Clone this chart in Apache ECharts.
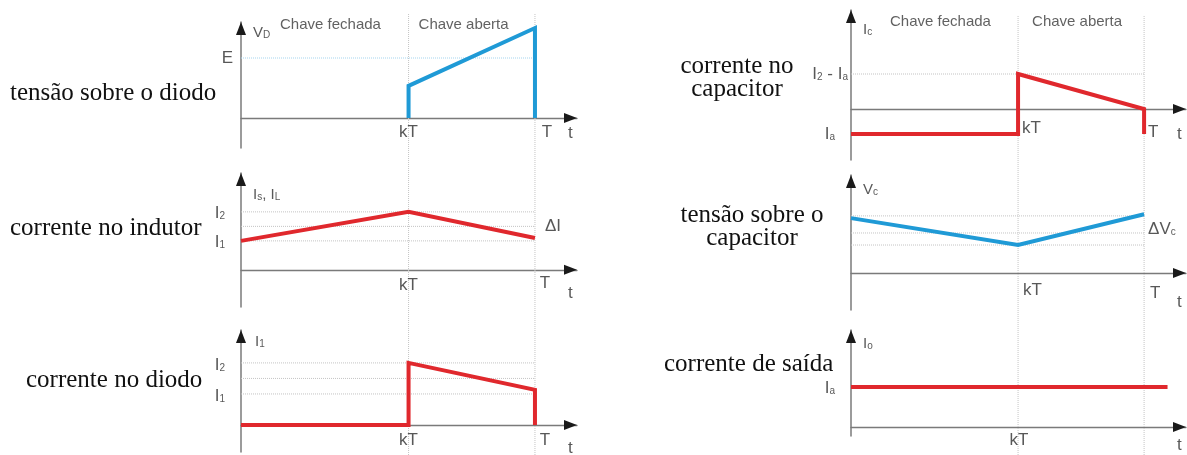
<!DOCTYPE html>
<html>
<head>
<meta charset="utf-8">
<script src="https://cdn.jsdelivr.net/npm/echarts@6/dist/echarts.min.js"></script>
<style>
  html, body { margin: 0; padding: 0; background: #fff; }
  #chart { width: 1187px; height: 455px; }
</style>
</head>
<body>
<div id="chart"></div>
<script>
// Switching waveforms over one period T; the switch opens at kT.
const k = 0.57;
const timeTicks = ['kT', 'T', 't'];
const timeTickPos = [k, 1, 1.12];

// tensão sobre o diodo
const vDiode = [[k, 0], [k, 1.07], [1, 3], [1, 0]];
const vDiodeLevels = [2];
const vDiodeLevelNames = ['E'];
// corrente no indutor
const iInductor = [[0, 1], [k, 2], [1, 1.1]];
const iInductorLevels = [1, 1.5, 2];
const iInductorLevelNames = ['I_1', '', 'I_2'];
// corrente no diodo
const iDiode = [[0, 0], [k, 0], [k, 2], [1, 1.13], [1, 0]];
const iDiodeLevels = [1, 1.5, 2];
const iDiodeLevelNames = ['I_1', '', 'I_2'];
// corrente no capacitor
const iCap = [[0, -1], [k, -1], [k, 1.4], [1, 0], [1, -1]];
const iCapLevels = [1.4];
const iCapLevelNames = ['I_2 - I_a'];
const iCapMarks = [-1];
const iCapMarkNames = ['I_a'];
// tensão sobre o capacitor
const vCap = [[0, 1.96], [k, 1], [1, 2.1]];
const vCapLevels = [1, 1.43, 2.04];
// corrente de saída
const iOut = [[0, 1], [1.08, 1]];
const iOutMarks = [1];
const iOutMarkNames = ['I_a'];

const sans = '"Liberation Sans", Arial, sans-serif';
const serif = '"Liberation Serif", "Times New Roman", serif';
const ink = '#2e2e2e';
const red = '#e0282d';
const blue = '#1f9ad6';
const guide = '#c4c4c4';

const rich = {
  m: { fontFamily: sans, fontSize: 17, color: ink },
  n: { fontFamily: sans, fontSize: 15, color: ink },
  s: { fontFamily: sans, fontSize: 10, color: ink, verticalAlign: 'bottom' },
  c: { fontFamily: sans, fontSize: 15, color: '#3a3a3a' }
};

// "I_2 - I_a" -> rich text with subscripts
function sub(text, big) {
  const st = big || 'm';
  return text.split(/(_[^\s,]+)/).filter(Boolean).map(function (p) {
    return p[0] === '_' ? '{s|' + p.slice(1) + '}' : '{' + st + '|' + p + '}';
  }).join('');
}

function note(x, y, text, align, dx, dy) {
  return { name: text, value: [x, y], label: { align: align, offset: [dx, dy] } };
}

const XMAX = 1.143;
const panels = [
  { // tensão sobre o diodo
    grid: { left: 241, top: 22, width: 336, height: 126 }, y: [-1, 3.2],
    color: blue, wave: vDiode, levels: vDiodeLevels, levelColor: '#a6d6f0',
    levelNames: vDiodeLevelNames, levelDx: -8, levelDy: 0,
    tickOffsets: [['center', 0, 14], ['center', 12, 14], ['center', 0, 15]],
    extra: [
      [0, 3.2, sub('V_D', 'n'), 'left', 12, 11],
      [0, 3.2, '{c|Chave fechada}', 'left', 39, 3],
      [k, 3.2, '{c|Chave aberta}', 'left', 10, 3]
    ]
  },
  { // corrente no indutor
    grid: { left: 241, top: 173, width: 336, height: 134 }, y: [-1.28, 3.34],
    color: red, wave: iInductor, levels: iInductorLevels, levelColor: guide,
    levelNames: iInductorLevelNames, levelDx: -16, levelDy: 1,
    tickOffsets: [['center', 0, 15], ['center', 10, 13], ['center', 0, 23]],
    extra: [
      [0, 3.34, sub('I_s, I_L', 'n'), 'left', 12, 22],
      [1, 1.5, '{m|ΔI}', 'left', 10, 0]
    ]
  },
  { // corrente no diodo
    grid: { left: 241, top: 330, width: 336, height: 122 }, y: [-0.87, 3.06],
    color: red, wave: iDiode, levels: iDiodeLevels, levelColor: guide,
    levelNames: iDiodeLevelNames, levelDx: -16, levelDy: 2,
    tickOffsets: [['center', 0, 15], ['center', 10, 15], ['center', 0, 23]],
    extra: [
      [0, 3.06, sub('I_1', 'n'), 'left', 14, 12]
    ]
  },
  { // corrente no capacitor
    grid: { left: 851, top: 10, width: 335, height: 150 }, y: [-2.04, 3.96],
    color: red, wave: iCap, levels: iCapLevels, levelColor: guide,
    levelNames: iCapLevelNames, levelDx: -3, levelDy: 0,
    marks: iCapMarks, markNames: iCapMarkNames, markDx: -16, markDy: 0,
    tickOffsets: [['left', 4, 19], ['left', 4, 23], ['center', 0, 25]],
    extra: [
      [0, 3.96, sub('I_c', 'n'), 'left', 12, 20],
      [0, 3.96, '{c|Chave fechada}', 'left', 39, 12],
      [k, 3.96, '{c|Chave aberta}', 'left', 14, 12]
    ]
  },
  { // tensão sobre o capacitor
    grid: { left: 851, top: 175, width: 335, height: 135 }, y: [-1.32, 3.5],
    color: blue, wave: vCap, levels: vCapLevels, levelColor: guide,
    levelNames: [], levelDx: 0, levelDy: 0,
    tickOffsets: [['left', 5, 17], ['left', 6, 20], ['center', 0, 29]],
    extra: [
      [0, 3.5, sub('V_c', 'n'), 'left', 12, 15],
      [1, 1.43, sub('ΔV_c'), 'left', 4, -4]
    ]
  },
  { // corrente de saída
    grid: { left: 851, top: 330, width: 335, height: 106 }, y: [-0.225, 2.425],
    color: red, wave: iOut, levels: [], levelColor: guide,
    levelNames: [], levelDx: 0, levelDy: 0,
    marks: iOutMarks, markNames: iOutMarkNames, markDx: -16, markDy: 1,
    tickOffsets: [['center', 1, 13], null, ['center', 0, 18]],
    extra: [
      [0, 2.425, sub('I_o', 'n'), 'left', 12, 14]
    ]
  }
];

const grids = [], xAxes = [], yAxes = [], series = [];
const axisGrey = '#7a7a7a';
const arrowInk = '#1a1a1a';

panels.forEach(function (p, i) {
  grids.push(p.grid);
  xAxes.push({
    type: 'value', gridIndex: i, min: 0, max: XMAX,
    axisLine: { onZero: true, lineStyle: { color: axisGrey, width: 1.3 } },
    axisTick: { show: false }, axisLabel: { show: false }, splitLine: { show: false }
  });
  yAxes.push({
    type: 'value', gridIndex: i, min: p.y[0], max: p.y[1],
    axisLine: { show: true, onZero: false, lineStyle: { color: axisGrey, width: 1.5 } },
    axisTick: { show: false }, axisLabel: { show: false }, splitLine: { show: false }
  });

  // dotted reference levels from the axis to T
  p.levels.forEach(function (v) {
    series.push({
      type: 'line', xAxisIndex: i, yAxisIndex: i, silent: true, showSymbol: false, z: 1,
      lineStyle: { color: p.levelColor, width: 1, type: 'dotted' },
      data: [[0, v], [1, v]]
    });
  });

  // waveform, plus the arrow heads at the ends of both axes
  series.push({
    type: 'line', xAxisIndex: i, yAxisIndex: i, silent: true, showSymbol: false, z: 4,
    lineStyle: { color: p.color, width: 4, join: 'miter', cap: 'butt' },
    data: p.wave,
    markPoint: {
      silent: true, animation: false,
      label: { show: false },
      itemStyle: { color: arrowInk },
      data: [
        { coord: [0, p.y[1]], symbol: 'triangle', symbolSize: [10, 13], symbolOffset: [0, 6.5] },
        { coord: [XMAX, 0], symbol: 'triangle', symbolSize: [10, 13], symbolRotate: -90, symbolOffset: [-6.5, 0] }
      ]
    }
  });

  // text annotations anchored at data coordinates
  const notes = [];
  timeTicks.forEach(function (t, j) {
    const o = p.tickOffsets[j];
    if (o) notes.push(note(timeTickPos[j], 0, '{m|' + t + '}', o[0], o[1], o[2]));
  });
  p.levels.forEach(function (v, j) {
    const name = p.levelNames[j];
    if (name) notes.push(note(0, v, sub(name), 'right', p.levelDx, p.levelDy));
  });
  (p.marks || []).forEach(function (v, j) {
    notes.push(note(0, v, sub(p.markNames[j]), 'right', p.markDx, p.markDy));
  });
  p.extra.forEach(function (e) { notes.push(note(e[0], e[1], e[2], e[3], e[4], e[5])); });

  series.push({
    type: 'scatter', xAxisIndex: i, yAxisIndex: i, silent: true, z: 6,
    symbolSize: 0,
    label: {
      show: true, position: [0, 0], verticalAlign: 'middle', rich: rich,
      formatter: function (d) { return d.name; }
    },
    data: notes
  });
});

// full-height dotted guides at kT and T, one per column
[[241, 336, 13], [851, 335, 16]].forEach(function (c) {
  const gi = grids.length;
  grids.push({ left: c[0], top: c[2], width: c[1], height: 455 - c[2] });
  xAxes.push({ type: 'value', gridIndex: gi, min: 0, max: XMAX, show: false });
  yAxes.push({ type: 'value', gridIndex: gi, min: 0, max: 1, show: false });
  [k, 1].forEach(function (x) {
    series.push({
      type: 'line', xAxisIndex: gi, yAxisIndex: gi, silent: true, showSymbol: false, z: 0,
      lineStyle: { color: guide, width: 1, type: 'dotted' },
      data: [[x, 0], [x, 1]]
    });
  });
});

// row captions
const captions = [
  { text: 'tensão sobre o diodo', x: 10, y: 93, align: 'left' },
  { text: 'corrente no indutor', x: 10, y: 228, align: 'left' },
  { text: 'corrente no diodo', x: 26, y: 380, align: 'left' },
  { text: 'corrente no\ncapacitor', x: 737, y: 78, align: 'center' },
  { text: 'tensão sobre o\ncapacitor', x: 752, y: 227, align: 'center' },
  { text: 'corrente de saída', x: 664, y: 364, align: 'left' }
];

const chart = echarts.init(document.getElementById('chart'), null, { renderer: 'canvas' });
chart.setOption({
  animation: false,
  backgroundColor: '#fff',
  grid: grids,
  xAxis: xAxes,
  yAxis: yAxes,
  series: series,
  graphic: captions.map(function (c) {
    return {
      type: 'text', x: c.x, y: c.y, silent: true,
      style: { text: c.text, fill: '#111', font: '25px ' + serif, lineHeight: 23,
        align: c.align, verticalAlign: 'middle' }
    };
  })
});
</script>
</body>
</html>
